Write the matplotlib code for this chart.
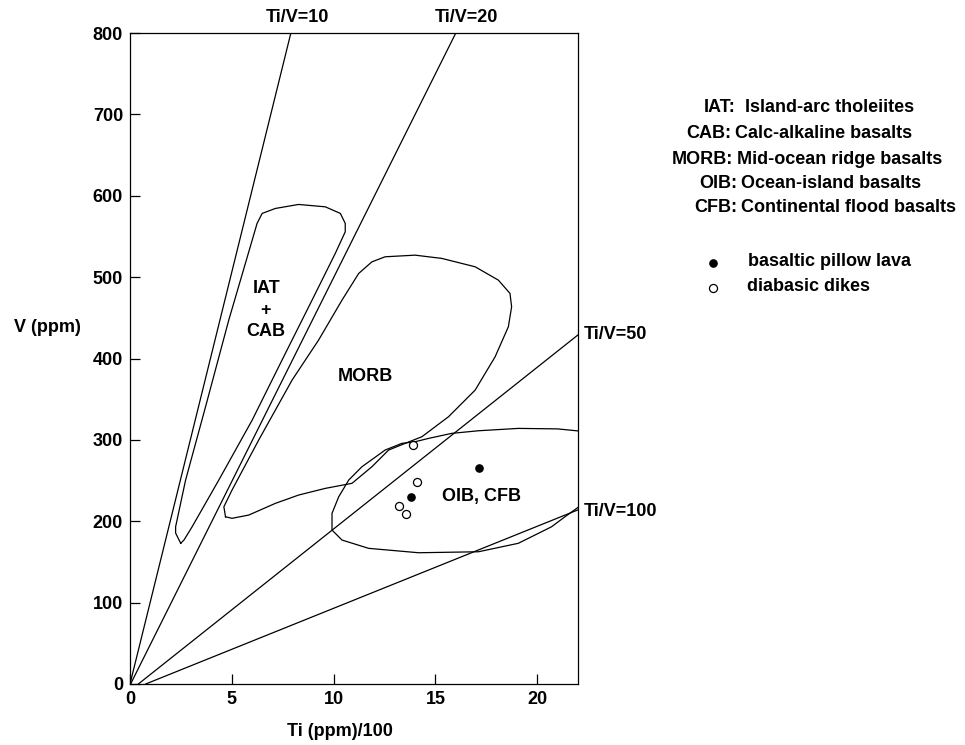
import matplotlib.pyplot as plt

plt.rcParams['font.family'] = ['Liberation Sans', 'DejaVu Sans']
plt.rcParams['font.size'] = 13
plt.rcParams['font.weight'] = 'bold'

# Ti/V reference lines: start on the x axis, end point
line_names = ['Ti/V=10', 'Ti/V=20', 'Ti/V=50', 'Ti/V=100']
line_x0 = [0.0, 0.03, 0.41, 0.77]
line_x1 = [7.9, 16.0, 22.0, 22.0]
line_y1 = [800, 800, 429, 214]

# IAT + CAB field (Ti/1000, V)
iat_x = [2.49, 2.24, 2.24, 2.73, 3.71, 4.85, 5.67, 6.24, 6.49, 7.14, 8.28, 9.59,
         10.33, 10.57, 10.57, 10.08, 8.94, 7.63, 6.0, 4.36, 3.05, 2.65, 2.49]
iat_y = [172.9, 185.5, 193.2, 250.6, 340.7, 447.2, 517.2, 566, 578.3, 584.4, 589.3, 586.4,
         578.3, 566, 555.7, 529.1, 471.7, 406.3, 324.3, 250.6, 193.2, 176.9, 172.9]

# MORB field
morb_x = [4.69, 4.61, 5.01, 6.32, 7.96, 9.26, 10.41, 11.23, 11.88, 12.53, 14.0, 15.31,
          16.95, 18.09, 18.66, 18.74, 18.58, 17.93, 16.95, 15.64, 14.33, 13.51, 12.70,
          11.88, 10.9, 9.59, 8.28, 7.14, 5.83, 5.01, 4.69]
morb_y = [205.5, 217.8, 238.3, 299.8, 373.5, 422.6, 471.7, 504.5, 518.8, 525, 527, 523,
          512.7, 496.3, 480, 463.5, 439, 402.1, 361.2, 328.4, 303.8, 295.7, 287.5,
          267, 246.6, 240.4, 232.2, 222, 207.6, 203.6, 205.5]

# OIB, CFB field (open to the right)
oib_x = [22.0, 21.0, 19.07, 17.11, 15.8, 14.66, 14.0, 13.35, 12.53, 11.39, 10.74, 10.25,
         9.92, 9.92, 10.41, 11.72, 14.17, 17.11, 19.07, 20.7, 21.36, 22.0]
oib_y = [311, 313.5, 314.1, 311.2, 308, 301.8, 297.7, 295.7, 287.5, 267, 250.6, 230.1,
         209.7, 189.2, 176.9, 166.7, 161.3, 162.5, 172.9, 193.2, 205.5, 217]

# samples
pillow_x = [17.16, 13.79]
pillow_y = [265, 230]
dike_x = [13.92, 14.08, 13.19, 13.56]
dike_y = [293.6, 247.8, 219, 208.8]

legend_abbr = ['IAT:', 'CAB:', 'MORB:', 'OIB:', 'CFB:']
legend_desc = [' Island-arc tholeiites', 'Calc-alkaline basalts', 'Mid-ocean ridge basalts',
               'Ocean-island basalts', 'Continental flood basalts']

W, H = 965, 745
fig = plt.figure(figsize=(W / 100, H / 100), dpi=100)
ax = fig.add_axes([130 / W, 1 - 684 / H, (578 - 130) / W, (684 - 33) / H])

lw = 0.9
for x0, x1, y1 in zip(line_x0, line_x1, line_y1):
    ax.plot([x0, x1], [0, y1], color='black', lw=lw)

ax.plot(iat_x, iat_y, color='black', lw=lw)
ax.plot(morb_x, morb_y, color='black', lw=lw)
ax.plot(oib_x, oib_y, color='black', lw=lw)

ax.plot(pillow_x, pillow_y, 'o', color='black', ms=5.2, mec='black')
ax.plot(dike_x, dike_y, 'o', mfc='white', mec='black', ms=5.8, mew=0.9)

ax.set_xlim(0, 22)
ax.set_ylim(0, 800)
ax.set_xticks([0, 5, 10, 15, 20])
ax.set_yticks(range(0, 801, 100))
ax.tick_params(direction='in', length=7, width=0.9, labelsize=13, pad=5)
for s in ax.spines.values():
    s.set_linewidth(0.9)

# line labels
ax.text(8.2, 819, line_names[0], ha='center', va='center', clip_on=False)
ax.text(16.5, 819, line_names[1], ha='center', va='center', clip_on=False)
ax.text(22.3, 429, line_names[2], ha='left', va='center', clip_on=False)
ax.text(22.3, 212, line_names[3], ha='left', va='center', clip_on=False)

# field labels
ax.text(6.7, 486, 'IAT', ha='center', va='center')
ax.text(6.65, 459, '+', ha='center', va='center')
ax.text(6.65, 433, 'CAB', ha='center', va='center')
ax.text(11.55, 378, 'MORB', ha='center', va='center')
ax.text(17.27, 230, 'OIB, CFB', ha='center', va='center')

fig.text(47 / W, 1 - 327 / H, 'V (ppm)', ha='center', va='center')
fig.text(340 / W, 1 - 732 / H, 'Ti (ppm)/100', ha='center', va='center')

# legend text on the right
colon_x = [736, 731, 733, 737, 737]
row_y = [107, 133, 159, 184, 208]
for a, d, cx, ry in zip(legend_abbr, legend_desc, colon_x, row_y):
    fig.text(cx / W, 1 - ry / H, a, ha='right', va='center')
    fig.text((cx + 4) / W, 1 - ry / H, d, ha='left', va='center')

fig.lines.append(plt.Line2D([713 / W], [1 - 263 / H], marker='o', color='black',
                            ms=5.2, transform=fig.transFigure, figure=fig))
fig.lines.append(plt.Line2D([713 / W], [1 - 288 / H], marker='o', mfc='white', mec='black',
                            ms=5.8, mew=0.9, transform=fig.transFigure, figure=fig))
fig.text(748 / W, 1 - 262 / H, 'basaltic pillow lava', ha='left', va='center')
fig.text(747 / W, 1 - 287 / H, 'diabasic dikes', ha='left', va='center')

fig.savefig('out.png', dpi=100)
